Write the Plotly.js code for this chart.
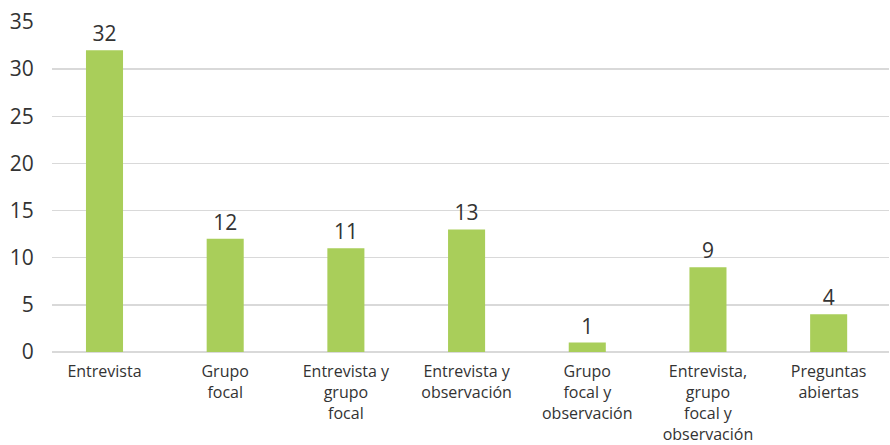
<!DOCTYPE html>
<html>
<head>
<meta charset="utf-8">
<script src="https://cdn.plot.ly/plotly-3.0.1.min.js"></script>
<style>html,body{margin:0;padding:0;background:#fff;}#chart{width:890px;height:445px;}</style>
</head>
<body>
<div id="chart"></div>
<script>
const categories = [
  "Entrevista",
  "Grupo<br>focal",
  "Entrevista y<br>grupo<br>focal",
  "Entrevista y<br>observación",
  "Grupo<br>focal y<br>observación",
  "Entrevista,<br>grupo<br>focal y<br>observación",
  "Preguntas<br>abiertas"
];
const values = [32, 12, 11, 13, 1, 9, 4];
const yTicks = [0, 5, 10, 15, 20, 25, 30, 35];

const FONT = '"Open Sans", sans-serif';

const trace = {
  type: 'bar',
  x: categories.map((c, i) => i),
  y: values,
  text: values.map(String),
  textposition: 'outside',
  cliponaxis: false,
  textfont: {family: FONT, size: 21, color: '#333333'},
  marker: {color: '#A9CE5A'},
  width: 0.307,
  hoverinfo: 'none'
};

const layout = {
  width: 890, height: 445,
  margin: {l: 52, r: 1, t: 22, b: 93},
  paper_bgcolor: '#ffffff', plot_bgcolor: '#ffffff',
  showlegend: false,
  font: {family: FONT, color: '#333333'},
  xaxis: {
    range: [-0.435, 6.5],
    tickmode: 'array',
    tickvals: categories.map((c, i) => i),
    ticktext: categories,
    tickangle: 0,
    ticks: 'outside', ticklen: 5, tickcolor: 'rgba(0,0,0,0)',
    showgrid: false, zeroline: false, showline: false,
    tickfont: {family: FONT, size: 16, color: '#333333'}
  },
  yaxis: {
    range: [0, 35],
    tickmode: 'array',
    tickvals: yTicks,
    ticktext: yTicks.map(String),
    ticks: 'outside', ticklen: 13, tickcolor: 'rgba(0,0,0,0)',
    showgrid: true, gridcolor: '#d9d9d9', gridwidth: 1.5,
    zeroline: true, zerolinecolor: '#d9d9d9', zerolinewidth: 1.5,
    showline: false,
    tickfont: {family: FONT, size: 21, color: '#333333'}
  },
  bargap: 0.7
};

Plotly.newPlot('chart', [trace], layout, {displayModeBar: false, staticPlot: true});
</script>
</body>
</html>
